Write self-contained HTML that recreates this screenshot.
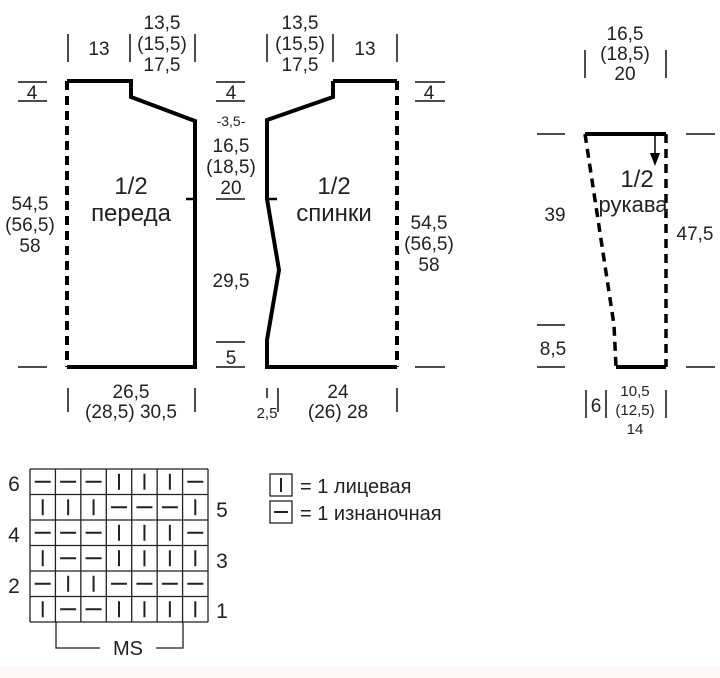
<!DOCTYPE html>
<html><head><meta charset="utf-8"><style>
html,body{margin:0;padding:0;background:#fff;}
svg{display:block;}
text{font-family:"Liberation Sans Narrow","Liberation Sans",Arial,sans-serif;fill:#222;}
</style></head><body>
<svg id="s" width="720" height="678" viewBox="0 0 720 678" xmlns="http://www.w3.org/2000/svg">
<rect x="0" y="667" width="720" height="11" fill="#fff8f8"/>
<g stroke="#111" fill="none" stroke-width="1.5">
<path d="M68 34V62M130 34V62M195 34V62M267 34V62M333 34V62M397 34V62"/>
<path d="M18 82H47M18 101H47M216 82H245M216 101H245M415 82H445M415 101H445M216 199H245M216 342H245M216 367H245M18 367H47M415 367H445"/>
<path d="M68 388V412M195 388V412M267 388V398M278 388V412M397 388V412"/>
<path d="M585 50V78M666 50V78M537 134H565M686 134H715M537 325H565M537 367H565M686 367H715M586 390V418M606 390V418M666 390V418"/>
</g>
<g stroke="#000" stroke-width="4" fill="none">
<path d="M67 81H131V97L195 121V367H67"/>
<path d="M186 199H195" stroke-width="2.5"/>
<path d="M67 81V367" stroke-dasharray="9,6"/>
<path d="M333 81V97L267 120V199L279 270L267 340V367H397 M333 81H397"/>
<path d="M267 199H277" stroke-width="2.5"/>
<path d="M397 81V367" stroke-dasharray="9,6"/>
<path d="M585 134H666M616 367H666"/>
<path d="M666 134V367M585 134L614 325L616 367" stroke-width="3.5" stroke-dasharray="9,6"/>
</g>
<path d="M655 134V155" stroke="#000" stroke-width="1.5"/>
<path d="M650 153L655 166L660 153Z" fill="#000"/>
<g font-size="19" text-anchor="middle">
<text x="99" y="55">13</text>
<text x="162" y="29">13,5</text><text x="162" y="50">(15,5)</text><text x="162" y="71">17,5</text>
<text x="300" y="29">13,5</text><text x="300" y="50">(15,5)</text><text x="300" y="71">17,5</text>
<text x="365" y="55">13</text>
<text x="32" y="99">4</text><text x="231" y="99">4</text><text x="429" y="99">4</text>
<text x="231" y="126" font-size="14">-3,5-</text>
<text x="231" y="152">16,5</text><text x="231" y="173">(18,5)</text><text x="231" y="194">20</text>
<text x="231" y="287">29,5</text>
<text x="231" y="364">5</text>
<text x="30" y="210">54,5</text><text x="30" y="231">(56,5)</text><text x="30" y="252">58</text>
<text x="429" y="229">54,5</text><text x="429" y="250">(56,5)</text><text x="429" y="271">58</text>
<text x="131" y="398">26,5</text><text x="131" y="418">(28,5) 30,5</text>
<text x="338" y="398">24</text><text x="338" y="418">(26) 28</text>
<text x="267" y="418" font-size="15">2,5</text>
<text x="625" y="40">16,5</text><text x="625" y="60">(18,5)</text><text x="625" y="80">20</text>
<text x="555" y="221">39</text><text x="695" y="240">47,5</text><text x="553" y="355">8,5</text>
<text x="596" y="412">6</text>
<text x="635" y="396" font-size="15">10,5</text><text x="635" y="415" font-size="15">(12,5)</text><text x="635" y="434" font-size="15">14</text>
</g>
<g font-size="24" text-anchor="middle">
<text x="131" y="194">1/2</text><text x="131" y="221">переда</text>
<text x="334" y="194">1/2</text><text x="334" y="221">спинки</text>
<text x="637" y="187">1/2</text><text x="633" y="212" font-size="22">рукава</text>
</g>
<g id="chart" stroke="#222" stroke-width="1.3" fill="none"></g>
<g font-size="21" text-anchor="middle">
<text x="14" y="491">6</text><text x="14" y="542">4</text><text x="14" y="593">2</text>
<text x="222" y="517">5</text><text x="222" y="568">3</text><text x="222" y="618">1</text>
<text x="128" y="655" font-size="20">MS</text>
</g>
<path d="M56 622V648H100M156 648H183V622" stroke="#222" stroke-width="1.3" fill="none"/>
<g stroke="#222" stroke-width="1.3" fill="none">
<rect x="270" y="474" width="22" height="22"/><path d="M281 478V492" stroke-width="2"/>
<rect x="270" y="501" width="22" height="22"/><path d="M274 512H288" stroke-width="2"/>
</g>
<g font-size="20"><text x="300" y="493">= 1 лицевая</text><text x="300" y="520">= 1 изнаночная</text></g>
</svg>
<script>
var rows=["---|||-","|||---|","---|||-","|--||||","-||----","|--||||"];
var g=document.getElementById("chart"),x0=30,y0=469,cw=25.43,rh=25.5,d="";
for(var i=0;i<=7;i++)d+="M"+(x0+i*cw)+" "+y0+"V"+(y0+6*rh);
for(var j=0;j<=6;j++)d+="M"+x0+" "+(y0+j*rh)+"H"+(x0+7*cw);
var p="";
rows.forEach(function(r,j){for(var i=0;i<7;i++){var cx=x0+i*cw+cw/2,cy=y0+j*rh+rh/2;
if(r[i]=="|")p+="M"+cx+" "+(cy-8)+"V"+(cy+8);else p+="M"+(cx-8)+" "+cy+"H"+(cx+8);}});
g.innerHTML='<path d="'+d+'"/><path d="'+p+'" stroke-width="2"/>';
</script>
</body></html>
